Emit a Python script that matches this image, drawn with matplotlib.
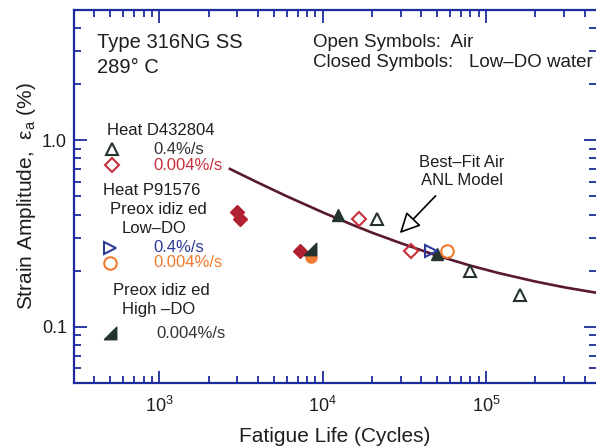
import numpy as np
import matplotlib
matplotlib.use("Agg")
import matplotlib.pyplot as plt

plt.rcParams['font.family'] = ['Liberation Sans', 'DejaVu Sans']
plt.rcParams['mathtext.fontset'] = 'custom'
plt.rcParams['mathtext.rm'] = 'Liberation Sans'
plt.rcParams['mathtext.it'] = 'Liberation Sans:italic'

# Data (N in cycles, strain amplitude in %)
# Heat D432804, 0.4%/s, air (open triangles)
tri_air_N = [2.14e4, 8.0e4, 1.62e5]
tri_air_e = [0.38, 0.20, 0.149]
# Heat D432804, 0.4%/s, low-DO water (closed triangles)
tri_wat_N = [1.24e4, 5.0e4]
tri_wat_e = [0.40, 0.245]
# Heat D432804, 0.004%/s, air (open diamonds)
dia_air_N = [1.66e4, 3.45e4]
dia_air_e = [0.38, 0.254]
# Heat D432804, 0.004%/s, low-DO water (closed diamonds)
dia_wat_N = [3.0e3, 3.12e3, 7.2e3]
dia_wat_e = [0.413, 0.379, 0.254]
# Heat P91576 preoxidized, 0.4%/s (right triangles)
rt_air_N = [4.6e4]
rt_air_e = [0.256]
# Heat P91576 preoxidized, 0.004%/s (circles)
cir_air_N = [5.74e4]
cir_air_e = [0.254]
cir_wat_N = [8.5e3]
cir_wat_e = [0.236]
# Heat P91576 preoxidized high-DO, 0.004%/s
hd_N = [8.4e3]
hd_e = [0.262]

# best-fit air ANL model
fit_N = [2700, 4000, 6000, 1e4, 1.5e4, 2e4, 3e4, 5e4, 8e4, 1.2e5, 2e5, 3e5, 4.8e5]
fit_e = [0.703, 0.594, 0.502, 0.411, 0.354, 0.320, 0.281, 0.241, 0.213, 0.194, 0.175, 0.163, 0.152]

axis_blue = '#1c2c9c'
c_dark = '#25332e'
c_red = '#c8303c'
c_blue = '#2e3a9c'
c_orange = '#f07a30'
c_text = '#1e1e1e'

wedge = [(-1, -1), (1, -1), (1, 1), (-1, -1)]

fig = plt.figure(figsize=(5.96, 4.48), dpi=100)
ax = fig.add_axes([74 / 596, 1 - 383 / 448, 1 - 74 / 596, (383 - 10) / 448])

ax.plot(fit_N, fit_e, color='#5a1a2e', lw=1.9, zorder=2)

ax.plot(tri_air_N, tri_air_e, ls='none', marker='^', ms=9, mfc='none', mec=c_dark, mew=1.5, zorder=3)
ax.plot(tri_wat_N, tri_wat_e, ls='none', marker='^', ms=9, mfc=c_dark, mec=c_dark, zorder=3)
ax.plot(dia_air_N, dia_air_e, ls='none', marker='D', ms=7, mfc='none', mec=c_red, mew=1.5, zorder=3)
ax.plot(dia_wat_N, dia_wat_e, ls='none', marker='D', ms=7, mfc='#b02232', mec='#b02232', zorder=3)
ax.plot(cir_wat_N, cir_wat_e, ls='none', marker='o', ms=8, mfc=c_orange, mec=c_orange, zorder=3)
ax.plot(hd_N, hd_e, ls='none', marker=wedge, ms=9, mfc=c_dark, mec=c_dark, zorder=4)
ax.plot(rt_air_N, rt_air_e, ls='none', marker='>', ms=9, mfc='none', mec=c_blue, mew=1.5, zorder=3)
ax.plot(cir_air_N, cir_air_e, ls='none', marker='o', ms=9, mfc='none', mec=c_orange, mew=1.5, zorder=3)

ax.set_xscale('log')
ax.set_yscale('log')
ax.set_xlim(300, 4.7e5)
ax.set_ylim(0.05, 5)

ax.set_yticks([0.1, 1.0])
ax.set_yticklabels(['0.1', '1.0'])
ax.set_xticks([1e3, 1e4, 1e5])
ax.set_xticklabels([r'$10^3$', r'$10^4$', r'$10^5$'])

for s in ax.spines.values():
    s.set_color(axis_blue)
    s.set_linewidth(1.6)
ax.spines['right'].set_visible(False)
ax.tick_params(which='both', direction='in', top=True, right=True, color=axis_blue,
               width=1.3, labelcolor=c_text, labelsize=13)
ax.tick_params(which='major', length=9)
ax.tick_params(which='minor', length=5)
ax.tick_params(axis='x', which='major', pad=9)
ax.tick_params(axis='y', which='major', pad=5)

ax.set_xlabel('Fatigue Life (Cycles)', fontsize=15, color=c_text, labelpad=8)
ax.set_ylabel('Strain Amplitude,  ε$_\\mathregular{a}$ (%)', fontsize=15, color=c_text, labelpad=3)

T = ax.transAxes
ax.text(0.044, 0.912, 'Type 316NG SS', transform=T, fontsize=14.5, color=c_text, va='center')
ax.text(0.044, 0.847, '289° C', transform=T, fontsize=14.5, color=c_text, va='center')
ax.text(0.458, 0.914, 'Open Symbols:  Air', transform=T, fontsize=13.5, color=c_text, va='center')
ax.text(0.458, 0.858, 'Closed Symbols:   Low–DO water', transform=T, fontsize=13.5, color=c_text, va='center')

ax.text(0.063, 0.678, 'Heat D432804', transform=T, fontsize=12, color=c_text, va='center')
ax.plot([0.073], [0.627], transform=T, marker='^', ms=9, mfc='none', mec=c_dark, mew=1.5)
ax.text(0.153, 0.627, '0.4%/s', transform=T, fontsize=12, color='#333333', va='center')
ax.plot([0.073], [0.584], transform=T, marker='D', ms=7, mfc='none', mec=c_red, mew=1.5)
ax.text(0.153, 0.584, '0.004%/s', transform=T, fontsize=12, color=c_red, va='center')

ax.text(0.056, 0.517, 'Heat P91576', transform=T, fontsize=12, color=c_text, va='center')
ax.text(0.069, 0.466, 'Preox idiz ed', transform=T, fontsize=12, color=c_text, va='center')
ax.text(0.092, 0.413, 'Low–DO', transform=T, fontsize=12, color=c_text, va='center')
ax.plot([0.069], [0.362], transform=T, marker='>', ms=9, mfc='none', mec=c_blue, mew=1.5)
ax.text(0.153, 0.362, '0.4%/s', transform=T, fontsize=12, color=c_blue, va='center')
ax.plot([0.069], [0.322], transform=T, marker='o', ms=9, mfc='none', mec=c_orange, mew=1.5)
ax.text(0.153, 0.322, '0.004%/s', transform=T, fontsize=12, color=c_orange, va='center')
ax.text(0.075, 0.249, 'Preox idiz ed', transform=T, fontsize=12, color=c_text, va='center')
ax.text(0.092, 0.198, 'High –DO', transform=T, fontsize=12, color=c_text, va='center')
ax.plot([0.069], [0.134], transform=T, marker=wedge, ms=9, mfc=c_dark, mec=c_dark)
ax.text(0.157, 0.134, '0.004%/s', transform=T, fontsize=12, color='#333333', va='center')

ax.text(7.1e4, 0.68, 'Best–Fit Air\nANL Model', fontsize=12, color=c_text,
        ha='center', va='center', linespacing=1.2)
ax.annotate('', xy=(2.96e4, 0.318), xytext=(4.9e4, 0.504),
            arrowprops=dict(arrowstyle='-|>,head_length=0.5,head_width=0.25',
                            fc='white', ec='black', lw=1.2, mutation_scale=25,
                            shrinkA=0, shrinkB=0))

fig.savefig('out.png', dpi=100, facecolor='white')
